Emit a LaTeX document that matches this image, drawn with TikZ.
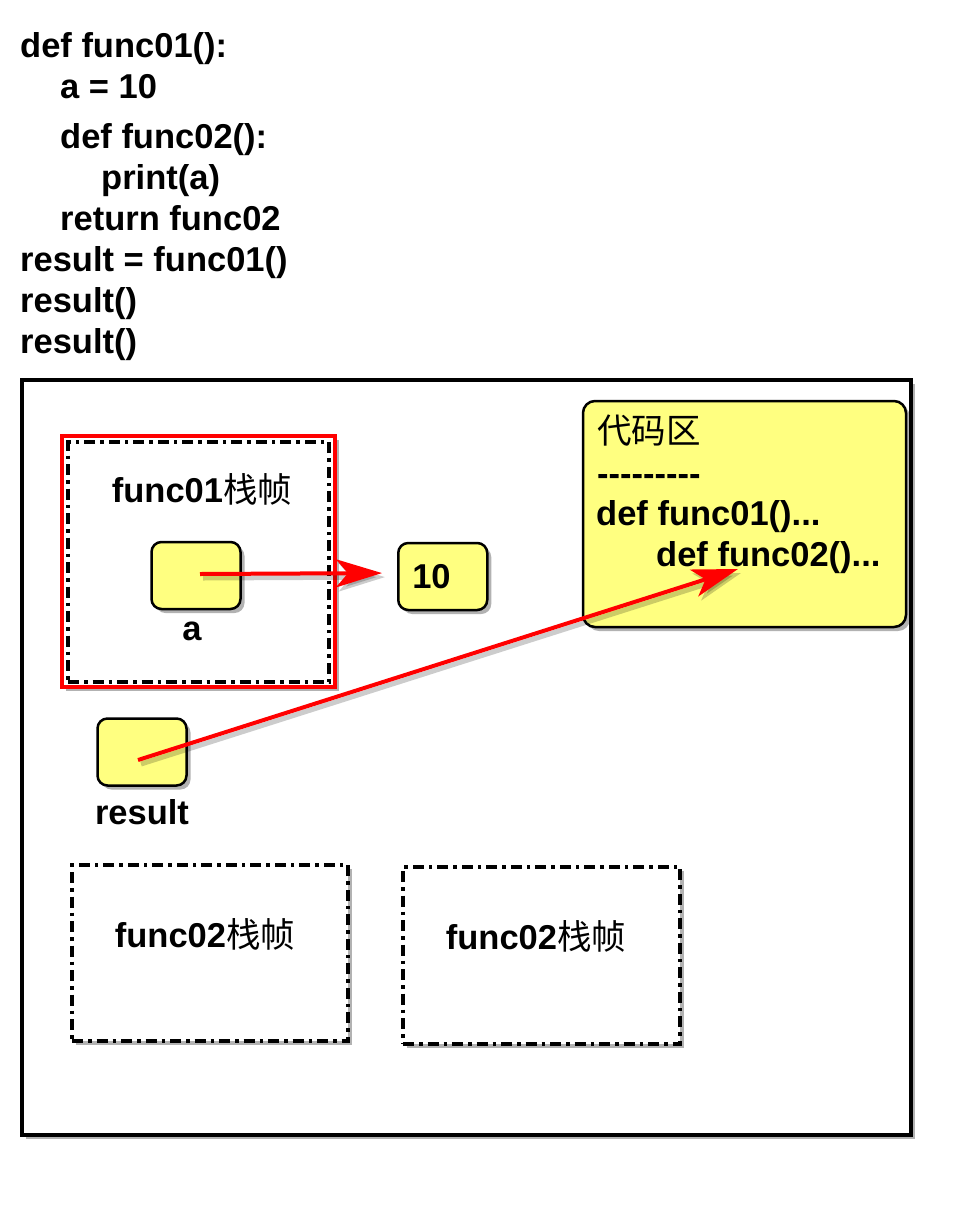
\documentclass[tikz,border=0pt]{standalone}
\usepackage{fontspec}
\setmainfont{Liberation Sans}
\newfontfamily\cjk{Noto Sans CJK SC}
\usetikzlibrary{shadows,arrows.meta}
\definecolor{boxyellow}{RGB}{255,255,128}
\newcommand{\hy}{\mbox{-}}
\begin{document}
\begin{tikzpicture}[x=1pt,y=-1pt,
  every node/.style={font=\bfseries\fontsize{34.5}{40}\selectfont},
  codeline/.style={anchor=base west, inner sep=0pt},
  shad/.style={drop shadow={shadow xshift=4pt, shadow yshift=-4pt, opacity=0.3, fill=black}},
  mainbox/.style={draw=black, line width=4.5pt, fill=white, shad, minimum width=889pt, minimum height=755pt, inner sep=0pt},
  frameline/.style={draw=black, line width=3.5pt, dash pattern=on 11pt off 5pt on 3.5pt off 5pt, inner sep=0pt},
  frame/.style={frameline, fill=white, shad},
  redframe/.style={draw=red, line width=4pt, fill=white, shad, inner sep=0pt},
  varbox/.style={draw=black, line width=2.5pt, fill=boxyellow, rounded corners=10pt, minimum width=89pt, minimum height=67pt, inner sep=0pt, shad},
  codebox/.style={draw=black, line width=2.5pt, fill=boxyellow, rounded corners=12pt, minimum width=323pt, minimum height=226pt, inner sep=0pt, shad},
  ptr/.style={draw=red, line width=4pt, -{Stealth[length=46pt,width=28pt,inset=12pt]},
    preaction={draw=black, opacity=0.2, line width=5pt, transform canvas={shift={(3pt,-4pt)}}}},
  title/.style={anchor=base, inner sep=0pt}
]
\useasboundingbox (0,0) rectangle (960,1213);

% code listing
\node[codeline] (l1) at (20,57) {def func01():};
\node[codeline] (l2) at (60,98) {a = 10};
\node[codeline] (l3) at (60,148) {def func02():};
\node[codeline] (l4) at (101,189) {print(a)};
\node[codeline] (l5) at (60,230) {return func02};
\node[codeline] (l6) at (20,271) {result = func01()};
\node[codeline] (l7) at (20,312) {result()};
\node[codeline] (l8) at (20,353) {result()};

% main memory box
\node[mainbox] (mem) at (466.5,757.5) {};

% func01 frame
\node[redframe, minimum width=273pt, minimum height=251pt] (f1red) at (198,561.5) {};
\node[frameline, minimum width=261pt, minimum height=240pt] (f1) at (198.5,562) {};
\node[title] (f1t) at (202,502) {func01{\cjk\mdseries 栈帧}};

% variable a
\node[varbox] (a) at (196,575.5) {};
\node[title] (alab) at (192,640) {a};

% value 10
\node[varbox, anchor=west, text width=61pt, align=left, inner xsep=14pt] (ten) at (397,576.5) {10};

% code area
\node[codebox] (code) at (744.5,514) {};
\node[codeline] (c1) at (597,443) {\cjk\mdseries 代码区};
\node[codeline] (c2) at (597,485) {\hy\hy\hy\hy\hy\hy\hy\hy\hy};
\node[codeline] (c3) at (596,525) {def func01()...};
\node[codeline] (c4) at (656,566) {def func02()...};
\coordinate (f2def) at (738,569);

% result
\node[varbox] (res) at (142,752) {};
\node[title] (reslab) at (142,824) {result};

% func02 frames
\node[frame, minimum width=276pt, minimum height=176pt] (f2a) at (210,953) {};
\node[title] (f2at) at (205,947) {func02{\cjk\mdseries 栈帧}};
\node[frame, minimum width=277pt, minimum height=177pt] (f2b) at (541.5,955.5) {};
\node[title] (f2bt) at (536,949) {func02{\cjk\mdseries 栈帧}};

% pointers
\draw[ptr, shorten >=15pt] ([xshift=4pt,yshift=1.5pt]a.center) -- (ten.west |- 0,573);
\draw[ptr] ([xshift=-4pt,yshift=-8pt]res.center) -- (f2def);
\end{tikzpicture}
\end{document}
